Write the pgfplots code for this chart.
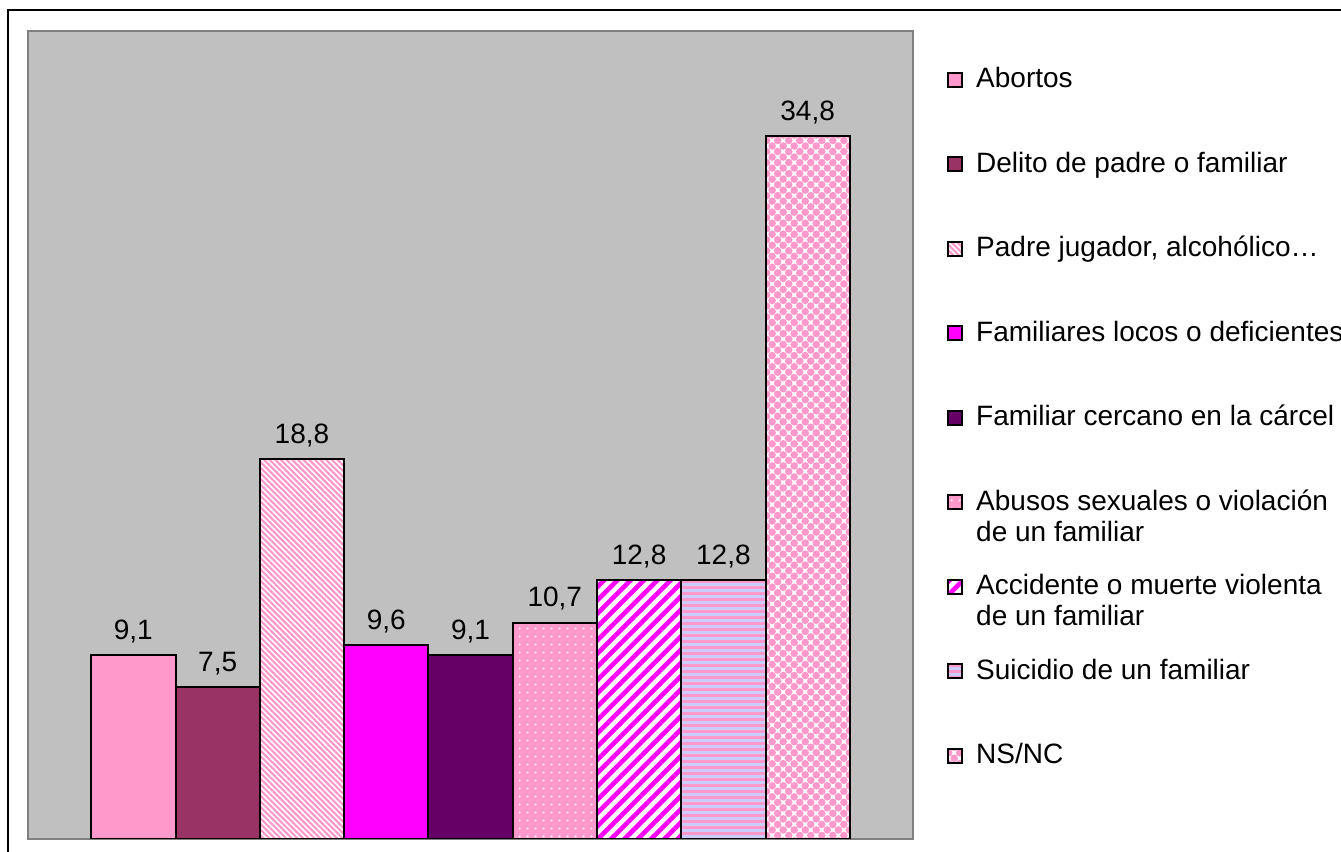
\documentclass[border=0pt]{standalone}
\usepackage{pgfplots}
\pgfplotsset{compat=1.18}
\usepackage{fontspec}
\setmainfont{Liberation Sans}
\usetikzlibrary{patterns.meta}
\definecolor{pinkA}{HTML}{FF99CC}
\definecolor{plum}{HTML}{993366}
\definecolor{magA}{HTML}{FF00FF}
\definecolor{dpurple}{HTML}{660066}
\definecolor{lav}{HTML}{CCCCFF}
\definecolor{bgray}{HTML}{C0C0C0}
\definecolor{dgray}{HTML}{808080}
\begin{document}
\begin{tikzpicture}
\useasboundingbox (0,0) rectangle (670.5pt,426pt);
\fill[white] (0,0) rectangle (670.5pt,426pt);
\clip (0,0) rectangle (670.5pt,426pt);
\draw[black, line width=0.9pt] (4pt,-20pt) rectangle (700pt,421pt);
\begin{axis}[
  scale only axis, width=442.5pt, height=404pt,
  at={(14pt,6.5pt)}, anchor=south west,
  xmin=-1.25, xmax=9.25, ymin=0, ymax=40,
  ybar, bar width=1, bar shift=0pt,
  xtick=\empty, ytick=\empty,
  axis background/.style={fill=bgray},
  axis line style={draw=dgray, line width=1pt},
  every axis plot/.append style={draw=black, line width=1pt},
  nodes near coords={\pgfmathprintnumber[fixed,precision=1,fixed zerofill,use comma,assume math mode=true]{\pgfplotspointmeta}},
  every node near coord/.append style={font=\fontsize{14}{16}\selectfont, text=black, anchor=south, inner sep=0pt, text depth=0pt, yshift=7.5pt},
  legend image code/.code={\draw[#1, line width=0.8pt] (0pt,-4.5pt) rectangle (7pt,2.5pt);},
  legend style={draw=none, fill=none, inner sep=0pt, at={(1.03842,0.955)}, anchor=north west, row sep=32.25pt, column sep=6.6pt, font=\fontsize{14}{15.5}\selectfont, nodes={inner sep=0pt, text height=10pt, text depth=0pt}},
  legend cell align=left,
]
\addplot[fill=pinkA] coordinates {(0,9.1)};
\addlegendentry{Abortos}
\addplot[fill=plum] coordinates {(1,7.5)};
\addlegendentry{Delito de padre o familiar}
\addplot[fill=white, postaction={pattern={Lines[angle=-45,distance=2pt,line width=1.1pt]}, pattern color=pinkA}] coordinates {(2,18.8)};
\addlegendentry{Padre jugador, alcohólico…}
\addplot[fill=magA] coordinates {(3,9.6)};
\addlegendentry{Familiares locos o deficientes}
\addplot[fill=dpurple] coordinates {(4,9.1)};
\addlegendentry{Familiar cercano en la cárcel}
\addplot[fill=pinkA, postaction={pattern={Dots[distance=4pt,radius=0.55pt]}, pattern color=white}] coordinates {(5,10.7)};
\addlegendentry{\parbox[t]{10cm}{Abusos sexuales o violación\\de un familiar}}
\addplot[fill=white, postaction={pattern={Lines[angle=45,distance=4.7pt,line width=2.3pt]}, pattern color=magA}] coordinates {(6,12.8)};
\addlegendentry{\parbox[t]{10cm}{Accidente o muerte violenta\\de un familiar}}
\addplot[fill=lav, postaction={pattern={Lines[angle=0,distance=3pt,line width=1.5pt]}, pattern color=pinkA}] coordinates {(7,12.8)};
\addlegendentry{Suicidio de un familiar}
\addplot[fill=white, postaction={pattern={Dots[angle=45,distance=3.9pt,radius=1.9pt]}, pattern color=pinkA}] coordinates {(8,34.8)};
\addlegendentry{NS/NC}
\end{axis}
\end{tikzpicture}
\end{document}
